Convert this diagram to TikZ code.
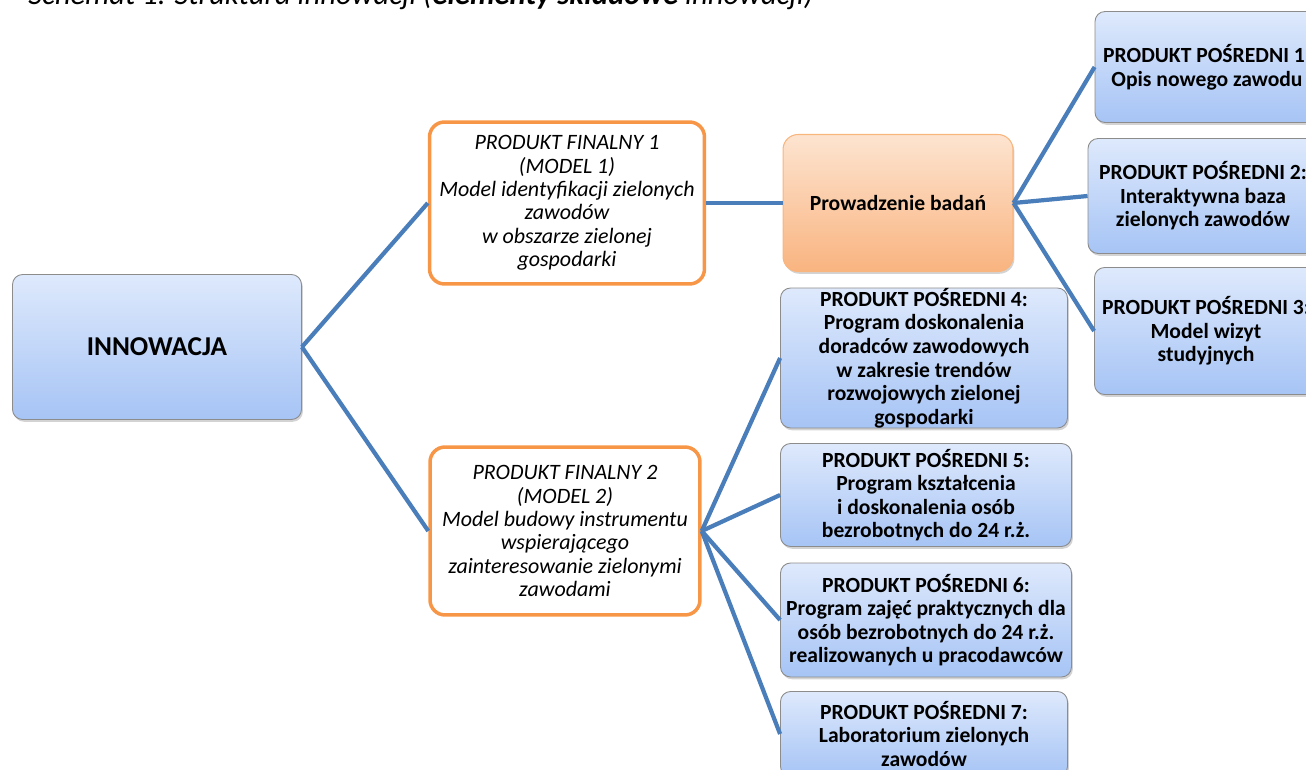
\documentclass[tikz,border=0pt]{standalone}
\usepackage{fontspec}
\setmainfont{Carlito}
\usetikzlibrary{shadows}
\definecolor{linkblue}{RGB}{74,126,187}
\definecolor{frameor}{RGB}{247,150,70}
\definecolor{bluetop}{RGB}{222,233,252}
\definecolor{bluebot}{RGB}{166,196,245}
\definecolor{ortop}{RGB}{253,228,208}
\definecolor{orbot}{RGB}{249,180,128}
\tikzset{
    blubox/.style={draw=black!45, line width=.5pt, rounded corners=.2cm, top color=bluetop, bottom color=bluebot,
        drop shadow={shadow xshift=.8pt, shadow yshift=-1.3pt, opacity=.35}, align=center, inner sep=0pt,
        font=\bfseries\fontsize{12.3}{13.4}\selectfont},
    orbox/.style={draw=frameor!70, line width=.6pt, rounded corners=.3cm, top color=ortop, bottom color=orbot,
        drop shadow={shadow xshift=.8pt, shadow yshift=-1.3pt, opacity=.35}, align=center, inner sep=0pt,
        font=\bfseries\fontsize{12.3}{14}\selectfont},
    finalbox/.style={draw=frameor, line width=2pt, rounded corners=.3cm, fill=white, align=center, inner sep=0pt,
        font=\itshape\fontsize{12.5}{13.3}\selectfont},
    link/.style={draw=linkblue, line width=2.4pt}
}
\begin{document}
\begin{tikzpicture}[x=0.02cm, y=-0.02cm]
    \useasboundingbox (0,0) rectangle (1306,770);
    % caption, cut by the page edge
    \node[anchor=base west, inner sep=0pt, font=\itshape\fontsize{17.4}{19}\selectfont] (caption) at (28,4.5)
        {Schemat 1. Struktura innowacji (\textbf{elementy składowe} innowacji)};

    \node[blubox, minimum width=5.78cm, minimum height=2.9cm, font=\bfseries\fontsize{15.5}{17}\selectfont] (inno) at (157,347) {INNOWACJA};

    \node[finalbox, minimum width=5.5cm, minimum height=3.24cm] (pf1) at (567,203)
        {PRODUKT FINALNY 1\\(MODEL 1)\\Model identyfikacji zielonych\\zawodów\\w obszarze zielonej\\gospodarki};
    \node[finalbox, minimum width=5.4cm, minimum height=3.36cm] (pf2) at (565,531)
        {PRODUKT FINALNY 2\\(MODEL 2)\\Model budowy instrumentu\\wspierającego\\zainteresowanie zielonymi\\zawodami};

    \node[orbox, minimum width=4.6cm, minimum height=2.74cm] (badania) at (898,203) {Prowadzenie badań};

    \node[blubox, minimum width=4.48cm, minimum height=2.22cm] (pp1) at (1207,67) {PRODUKT POŚREDNI 1:\\Opis nowego zawodu};
    \node[blubox, minimum width=4.6cm, minimum height=2.3cm] (pp2) at (1203,196) {PRODUKT POŚREDNI 2:\\Interaktywna baza\\zielonych zawodów};
    \node[blubox, minimum width=4.46cm, minimum height=2.54cm] (pp3) at (1206,331) {PRODUKT POŚREDNI 3:\\Model wizyt\\studyjnych};

    \node[blubox, minimum width=5.74cm, minimum height=2.8cm] (pp4) at (924,358)
        {PRODUKT POŚREDNI 4:\\Program doskonalenia\\doradców zawodowych\\w zakresie trendów\\rozwojowych zielonej\\gospodarki};
    \node[blubox, minimum width=5.82cm, minimum height=2.06cm] (pp5) at (926,495)
        {PRODUKT POŚREDNI 5:\\Program kształcenia\\i doskonalenia osób\\bezrobotnych do 24 r.ż.};
    \node[blubox, minimum width=5.82cm, minimum height=2.28cm] (pp6) at (926,620)
        {PRODUKT POŚREDNI 6:\\Program zajęć praktycznych dla\\osób bezrobotnych do 24 r.ż.\\realizowanych u pracodawców};
    \node[blubox, minimum width=5.74cm, minimum height=1.7cm] (pp7) at (924,734)
        {PRODUKT POŚREDNI 7:\\Laboratorium zielonych\\zawodów};

    \draw[link] (inno.east) -- (pf1.west);
    \draw[link] (inno.east) -- (pf2.west);
    \draw[link] (pf1.east) -- (badania.west);
    \foreach \p in {pp1,pp2,pp3}
        \draw[link] (badania.east) -- (\p.west);
    \foreach \p in {pp4,pp5,pp6,pp7}
        \draw[link] (pf2.east) -- (\p.west);
\end{tikzpicture}
\end{document}
